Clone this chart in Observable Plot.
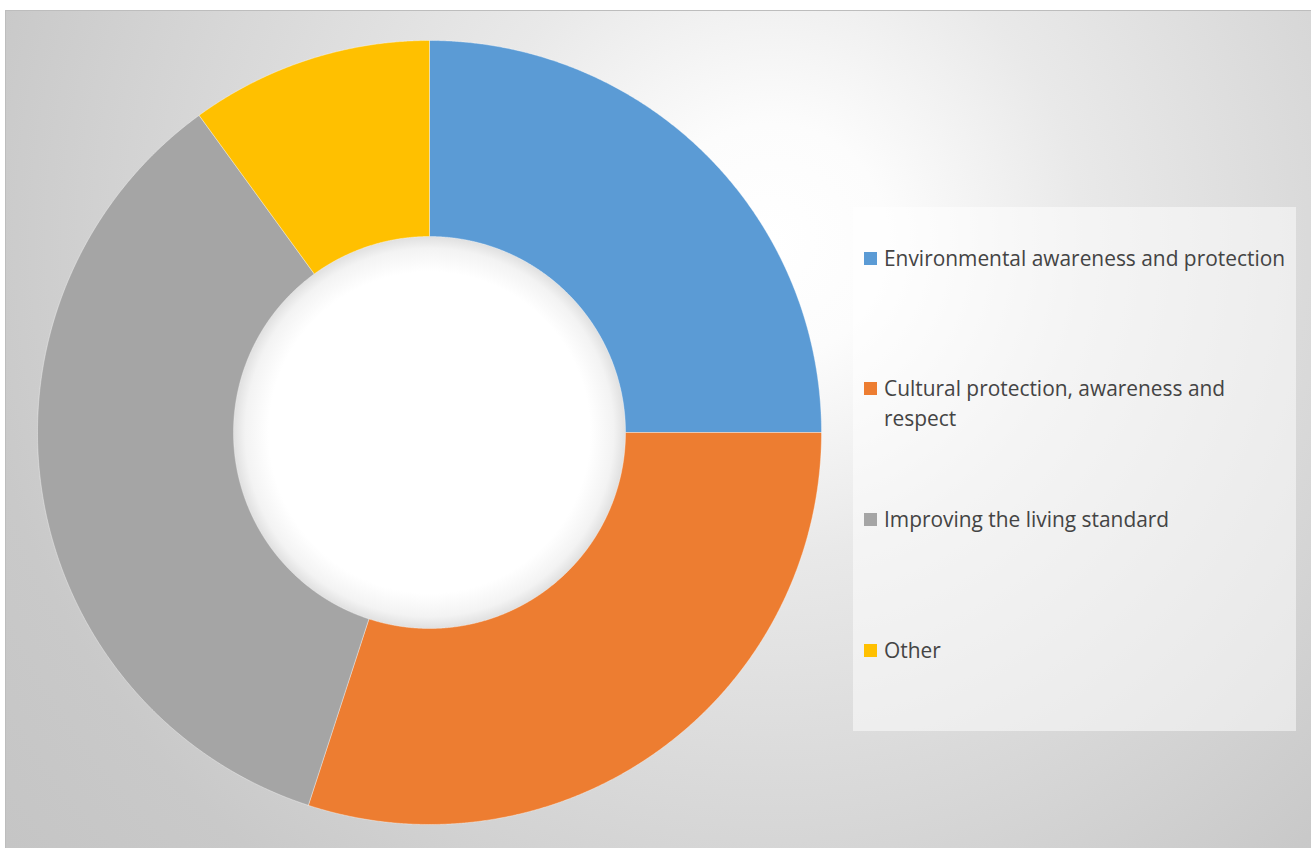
<!DOCTYPE html>
<html>
<head>
<meta charset="utf-8">
<script src="https://cdn.jsdelivr.net/npm/d3@7"></script>
<script src="https://cdn.jsdelivr.net/npm/@observablehq/plot@0.6"></script>
<style>
  html, body { margin: 0; padding: 0; background: #fff; }
  #wrap { position: relative; width: 1311px; height: 848px; overflow: hidden; background: #fff; }
  #bg {
    position: absolute; left: 5px; top: 10px; width: 1306px; height: 838px;
    box-sizing: border-box; border-left: 1px solid #bdbdbd; border-top: 1px solid #bdbdbd;
    background: radial-gradient(circle farthest-corner at 765px 230px, #ffffff 0%, #fcfcfc 12%, #e9e9e9 32%, #dadada 55%, #c9c9c9 82%, #c5c5c5 100%);
  }
  #chart { position: absolute; left: 0; top: 0; }
  #legend {
    position: absolute; left: 853px; top: 207px; width: 443px; height: 524px;
    background: rgba(255,255,255,0.5);
    font-family: "Open Sans", Lato, sans-serif; font-size: 20.9px; color: #444444;
  }
  .item { position: absolute; left: 31px; line-height: 30px; width: 408px; }
  .sw { position: absolute; left: -20px; top: 9px; width: 13px; height: 13px; }
</style>
</head>
<body>
<div id="wrap">
  <div id="bg"></div>
  <div id="chart"></div>
  <div id="legend"></div>
</div>
<script>
const categories = [
  "Environmental awareness and protection",
  "Cultural protection, awareness and respect",
  "Improving the living standard",
  "Other"
];
const values = [25, 30, 35, 10];
const colors = ["#5b9bd5", "#ed7d31", "#a5a5a5", "#ffc000"];
const legendTops = [36, 166, 297, 428];

const innerRatio = 0.5;
const data = categories.map((c, i) => ({cat: c, value: values[i]}));
const arcs = d3.pie().sort(null).value(d => d.value)(data);

const slicePts = [];
for (const a of arcs) {
  const n = Math.max(8, Math.ceil((a.endAngle - a.startAngle) / 0.004));
  const pts = [];
  for (let k = 0; k <= n; k++) {
    const t = a.startAngle + (a.endAngle - a.startAngle) * k / n;
    pts.push({cat: a.data.cat, x: Math.sin(t), y: Math.cos(t)});
  }
  for (let k = n; k >= 0; k--) {
    const t = a.startAngle + (a.endAngle - a.startAngle) * k / n;
    pts.push({cat: a.data.cat, x: innerRatio * Math.sin(t), y: innerRatio * Math.cos(t)});
  }
  pts.push({...pts[0]});
  slicePts.push(...pts);
}
const holePts = d3.range(0, 721).map(k => {
  const t = 2 * Math.PI * k / 720;
  return {x: innerRatio * Math.sin(t), y: innerRatio * Math.cos(t)};
});

const cx = 429, cy = 432, R = 392;
const chart = Plot.plot({
  width: 1311,
  height: 848,
  style: {background: "transparent", overflow: "visible"},
  x: {domain: [-1, 1], range: [cx - R, cx + R], axis: null},
  y: {domain: [-1, 1], range: [cy + R, cy - R], axis: null},
  color: {domain: categories, range: colors},
  marks: [
    Plot.line(holePts, {x: "x", y: "y", fill: "url(#holeGrad)", stroke: "none", curve: "linear"}),
    Plot.line(slicePts, {x: "x", y: "y", z: "cat", fill: "cat", stroke: "#ffffff", strokeWidth: 0.6, strokeOpacity: 0.6, curve: "linear"})
  ]
});
const ns = "http://www.w3.org/2000/svg";
const defs = document.createElementNS(ns, "defs");
defs.innerHTML = `<radialGradient id="holeGrad" cx="50%" cy="50%" r="50%">
  <stop offset="0%" stop-color="#ffffff"/>
  <stop offset="82%" stop-color="#ffffff"/>
  <stop offset="94%" stop-color="#f3f3f3"/>
  <stop offset="100%" stop-color="#e0e0e0"/>
</radialGradient>`;
chart.insertBefore(defs, chart.firstChild);
document.getElementById("chart").appendChild(chart);

const legend = document.getElementById("legend");
categories.forEach((c, i) => {
  const it = document.createElement("div");
  it.className = "item";
  it.style.top = legendTops[i] + "px";
  const sw = document.createElement("span");
  sw.className = "sw";
  sw.style.background = colors[i];
  it.appendChild(sw);
  it.appendChild(document.createTextNode(c));
  legend.appendChild(it);
});
</script>
</body>
</html>
